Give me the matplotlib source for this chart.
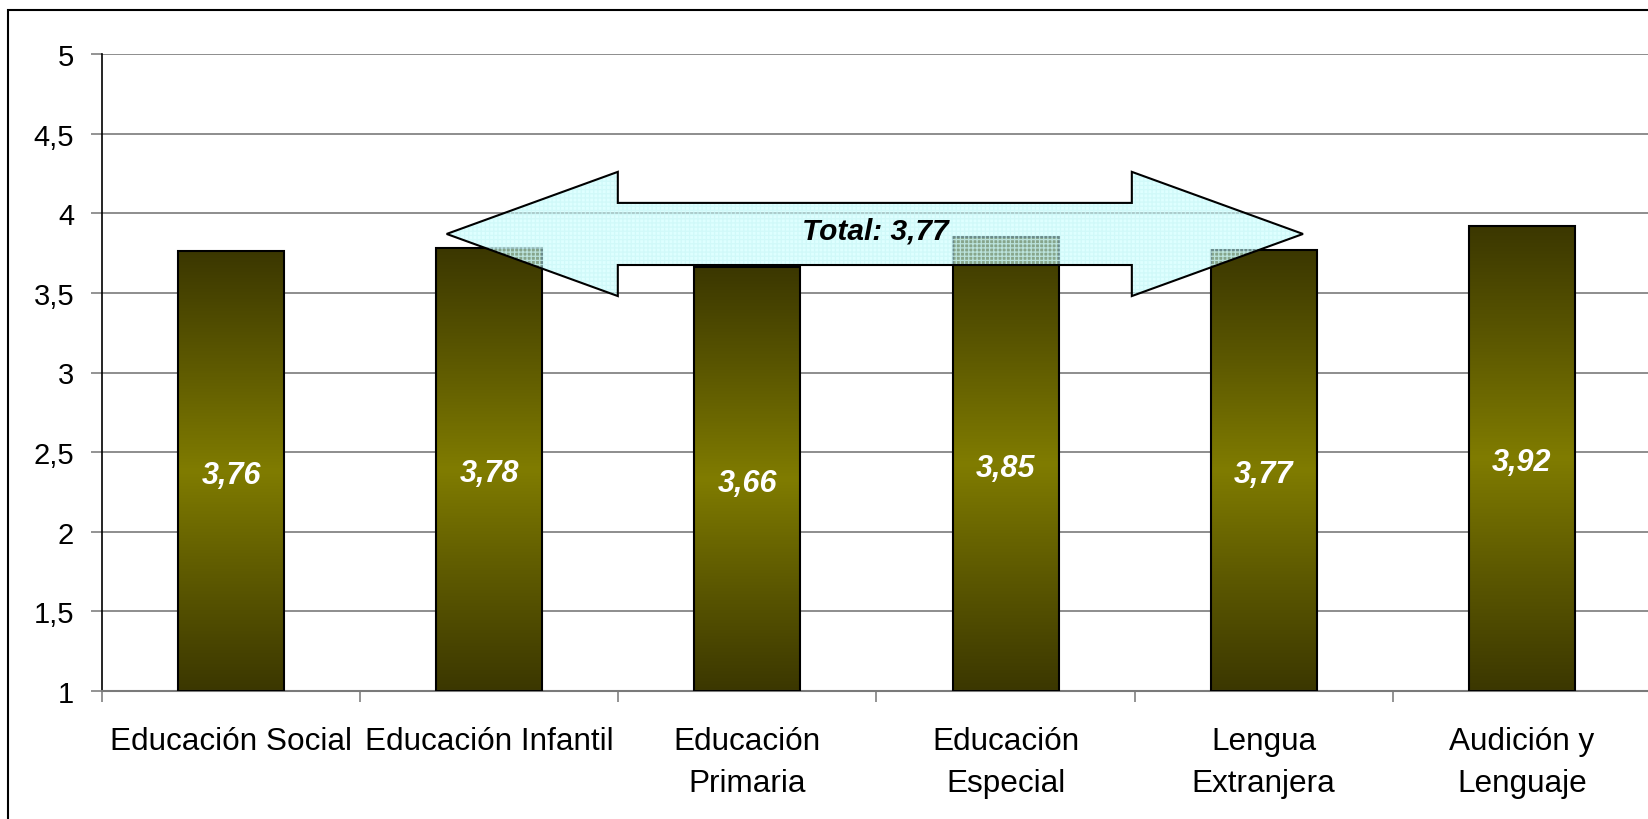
import numpy as np
import matplotlib
matplotlib.use('Agg')
import matplotlib.pyplot as plt
from matplotlib.colors import LinearSegmentedColormap
from matplotlib.patches import Polygon, Rectangle

# datos del grafico
categorias = ['Educación Social', 'Educación Infantil', 'Educación\nPrimaria',
              'Educación\nEspecial', 'Lengua\nExtranjera', 'Audición y\nLenguaje']
valores = [3.76, 3.78, 3.66, 3.85, 3.77, 3.92]
etiquetas = ['3,76', '3,78', '3,66', '3,85', '3,77', '3,92']
total = 3.77
total_texto = 'Total: 3,77'
yticks = [1, 1.5, 2, 2.5, 3, 3.5, 4, 4.5, 5]
yticks_texto = ['1', '1,5', '2', '2,5', '3', '3,5', '4', '4,5', '5']

plt.rcParams['font.family'] = ['Liberation Sans', 'DejaVu Sans']
plt.rcParams['hatch.linewidth'] = 0.9

fig = plt.figure(figsize=(16.48, 8.2), dpi=100)
ax = fig.add_axes([102/1648, 1 - 692/820, (1651 - 102)/1648, (692 - 55)/820])

# marco exterior
marco = Rectangle((8/1648, -0.05), 1.1, 1 - 11/820 + 0.05, transform=fig.transFigure,
                  fill=False, ec='black', lw=1.5, clip_on=False)
fig.patches.append(marco)

# barras con degradado
cmap = LinearSegmentedColormap.from_list('olivo', ['#3b3700', '#5c5800', '#807c00', '#5c5800', '#3b3700'])
x = np.arange(len(valores))
ancho = 0.41
barras = ax.bar(x, np.array(valores) - 1, bottom=1, width=ancho, color='none',
                edgecolor='black', lw=1.5, zorder=3)
grad = np.linspace(0, 1, 256).reshape(-1, 1)
for b in barras:
    im = ax.imshow(grad, cmap=cmap, aspect='auto', origin='lower', zorder=2,
                   extent=[b.get_x(), b.get_x() + b.get_width(), b.get_y(), b.get_y() + b.get_height()])
    im.set_clip_path(b)

for xi, v, et in zip(x, valores, etiquetas):
    ax.text(xi, (1 + v) / 2, et, color='white', fontsize=22, fontweight='bold',
            fontstyle='italic', ha='center', va='center_baseline', zorder=6)

# flecha doble del total
xi_, xd_ = 0.835, 4.152
cab = 0.663
yc = total + 0.10
hh, hs = 0.39, 0.195
pts = [(xi_, yc), (xi_ + cab, yc + hh), (xi_ + cab, yc + hs), (xd_ - cab, yc + hs),
       (xd_ - cab, yc + hh), (xd_, yc), (xd_ - cab, yc - hh), (xd_ - cab, yc - hs),
       (xi_ + cab, yc - hs), (xi_ + cab, yc - hh)]
ax.add_patch(Polygon(pts, closed=True, fc='#c4ffff', ec='none', alpha=0.55, zorder=4))
ax.add_patch(Polygon(pts, closed=True, fill=False, hatch='++++', ec=(0.80, 0.97, 0.97, 0.75),
                     lw=0, zorder=4.1))
ax.add_patch(Polygon(pts, closed=True, fill=False, ec='black', lw=1.5, zorder=4.2))
ax.text((xi_ + xd_) / 2, yc + 0.04, total_texto, fontsize=21.5, fontweight='bold',
        fontstyle='italic', ha='center', va='center_baseline', zorder=6)

# ejes
ax.set_xlim(-0.5, len(valores) - 0.5)
ax.set_ylim(1, 5)
ax.set_yticks(yticks, yticks_texto)
ax.set_xticks(np.arange(len(valores) + 1) - 0.5, [''] * (len(valores) + 1))
ax.set_xticks(x, categorias, minor=True)
ax.tick_params(axis='x', which='minor', length=0, pad=25, labelsize=22.7)
ax.tick_params(axis='x', which='major', length=8, color='#808080', width=1.2)
ax.tick_params(axis='y', length=8, pad=12, labelsize=21, color='#808080', width=1.2)
plt.setp(ax.get_xticklabels(minor=True), linespacing=1.55)

ax.yaxis.grid(True, color='#7a7a7a', lw=1.2)
ax.set_axisbelow(True)
for s in ['top', 'right']:
    ax.spines[s].set_visible(False)
ax.spines['left'].set_color('black')
ax.spines['left'].set_linewidth(1.2)
ax.spines['bottom'].set_color('#7a7a7a')
ax.spines['bottom'].set_linewidth(1.5)

fig.savefig('out.png', dpi=100)
